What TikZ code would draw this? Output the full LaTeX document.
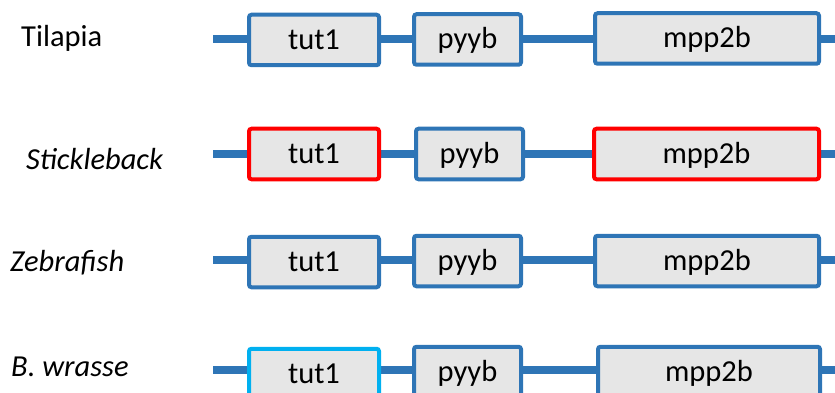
\documentclass[tikz,border=0pt]{standalone}
\usepackage{fontspec}
\setmainfont{Carlito}
\usetikzlibrary{backgrounds}
\definecolor{lineblue}{RGB}{46,117,182}
\definecolor{genefill}{RGB}{230,230,230}
\definecolor{hired}{RGB}{255,0,0}
\definecolor{hicyan}{RGB}{0,176,240}
\begin{document}
\begin{tikzpicture}[x=1pt,y=-1pt,
  font=\fontsize{30.5}{36}\selectfont,
  gene/.style={draw=lineblue, line width=4pt, fill=genefill, rounded corners=2.5pt,
    inner sep=0pt, minimum height=50.5pt, text height=19pt, text depth=0pt},
  chrom/.style={draw=lineblue, line width=8pt},
  species/.style={anchor=base west, inner sep=0pt}]
\useasboundingbox (0,0) rectangle (835,393);

% species labels
\node[species] (l1) at (21,47) {Tilapia};
\node[species] (l2) at (26,169) {\itshape Stickleback};
\node[species] (l3) at (10,271) {\itshape Zebrafish};
\node[species] (l4) at (11,376) {\itshape B. wrasse};

% row 1
\node[gene, minimum width=130pt] (a1) at (314,40) {tut1};
\node[gene, minimum width=107pt] (b1) at (467.5,39.5) {pyyb};
\node[gene, minimum width=224pt] (c1) at (707,38.5) {mpp2b};
% row 2
\node[gene, draw=hired, minimum width=130pt] (a2) at (314,154) {tut1};
\node[gene, minimum width=107pt] (b2) at (469.5,154) {pyyb};
\node[gene, draw=hired, minimum width=225pt] (c2) at (706.5,154) {mpp2b};
% row 3
\node[gene, minimum width=130pt] (a3) at (314,262) {tut1};
\node[gene, minimum width=107pt] (b3) at (467.5,261) {pyyb};
\node[gene, minimum width=224pt] (c3) at (707,261) {mpp2b};
% row 4
\node[gene, draw=hicyan, minimum width=130pt] (a4) at (314,374) {tut1};
\node[gene, minimum width=107pt] (b4) at (467.5,372) {pyyb};
\node[gene, minimum width=222pt] (c4) at (709,372) {mpp2b};

\coordinate (s1) at (213,39.5);  \coordinate (e1) at (845,39.5);
\coordinate (s2) at (213,154); \coordinate (e2) at (845,154);
\coordinate (s3) at (213,260); \coordinate (e3) at (845,260);
\coordinate (s4) at (213,370); \coordinate (e4) at (845,370);

\begin{pgfonlayer}{background}
\foreach \r in {1,2,3,4}{
  \draw[chrom] (s\r) -- (a\r.west |- s\r);
  \draw[chrom] (a\r.east |- s\r) -- (b\r.west |- s\r);
  \draw[chrom] (b\r.east |- s\r) -- (c\r.west |- s\r);
  \draw[chrom] (c\r.east |- s\r) -- (e\r);
}
\end{pgfonlayer}
\end{tikzpicture}
\end{document}
